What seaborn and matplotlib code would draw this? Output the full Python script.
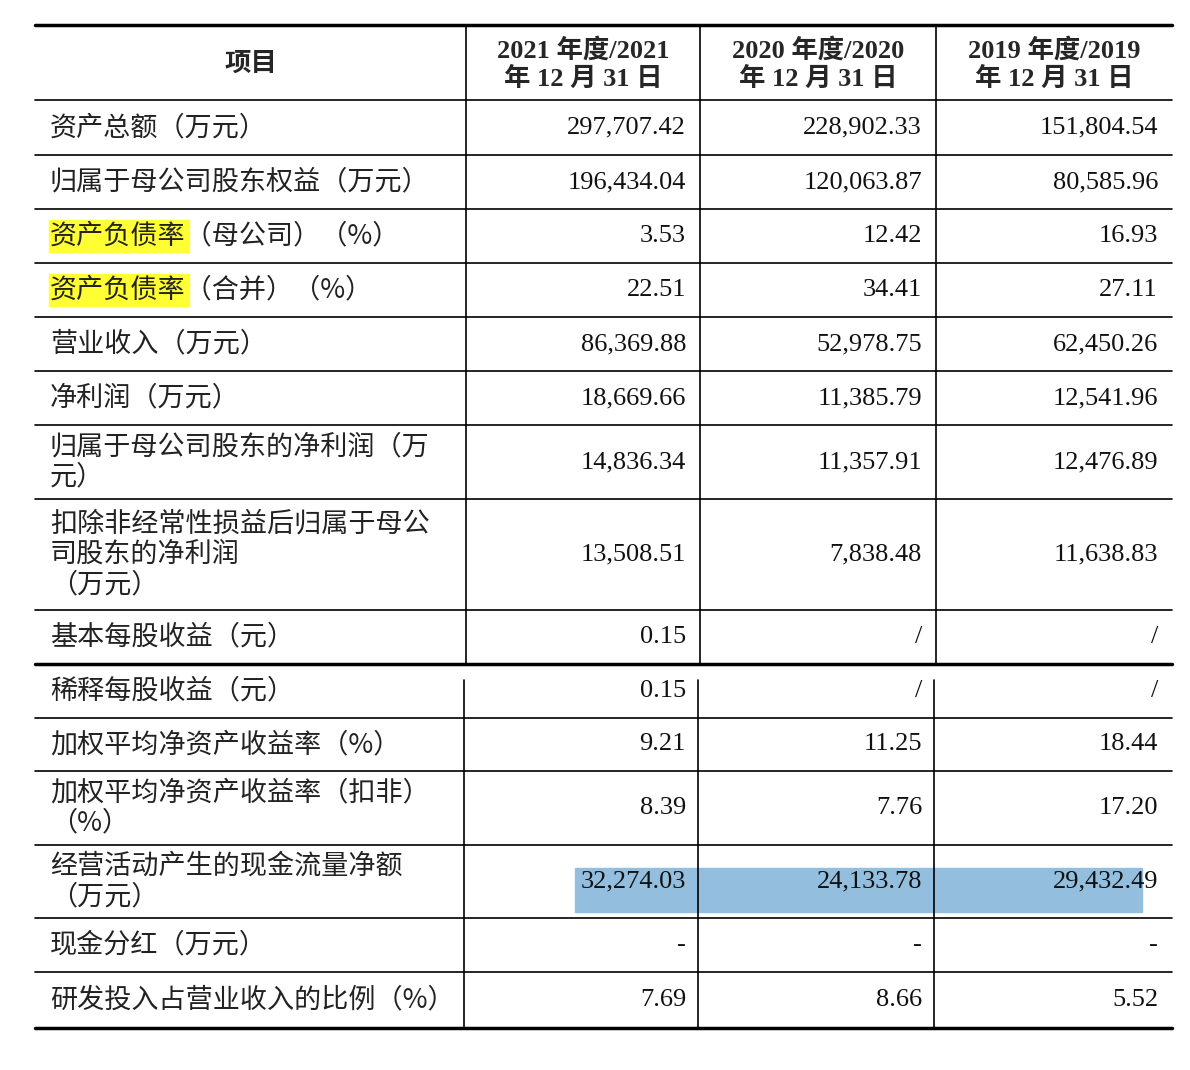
import matplotlib.pyplot as plt
import seaborn as sns
from matplotlib.patches import Rectangle

sns.set_style("white")
plt.rcParams['font.family'] = ['Noto Sans CJK SC', 'DejaVu Sans']

headers = ["项目", "2021 年度/2021\n年 12 月 31 日", "2020 年度/2020\n年 12 月 31 日", "2019 年度/2019\n年 12 月 31 日"]
items = [
    "资产总额（万元）",
    "归属于母公司股东权益（万元）",
    "资产负债率（母公司）（%）",
    "资产负债率（合并）（%）",
    "营业收入（万元）",
    "净利润（万元）",
    "归属于母公司股东的净利润（万\n元）",
    "扣除非经常性损益后归属于母公\n司股东的净利润\n（万元）",
    "基本每股收益（元）",
    "稀释每股收益（元）",
    "加权平均净资产收益率（%）",
    "加权平均净资产收益率（扣非）\n（%）",
    "经营活动产生的现金流量净额\n（万元）",
    "现金分红（万元）",
    "研发投入占营业收入的比例（%）",
]
v2021 = ["297,707.42", "196,434.04", "3.53", "22.51", "86,369.88", "18,669.66", "14,836.34",
         "13,508.51", "0.15", "0.15", "9.21", "8.39", "32,274.03", "-", "7.69"]
v2020 = ["228,902.33", "120,063.87", "12.42", "34.41", "52,978.75", "11,385.79", "11,357.91",
         "7,838.48", "/", "/", "11.25", "7.76", "24,133.78", "-", "8.66"]
v2019 = ["151,804.54", "80,585.96", "16.93", "27.11", "62,450.26", "12,541.96", "12,476.89",
         "11,638.83", "/", "/", "18.44", "17.20", "29,432.49", "-", "5.52"]

row_edges = [25, 100, 155, 209, 263, 317, 371, 425, 499, 610, 664, 718, 771, 845, 918, 972, 1028]
col_edges = [35, 466, 700, 936, 1172]

fig = plt.figure(figsize=(11.9, 10.7), dpi=100)
ax = fig.add_axes([0, 0, 1, 1])
ax.set_xlim(0, 1190)
ax.set_ylim(1070, 0)
ax.axis('off')

# highlights
for r in (3, 4):
    y0, y1 = row_edges[r], row_edges[r + 1]
    ax.add_patch(Rectangle((49, (y0 + y1) / 2 - 16), 140, 32, color='#ffff33', zorder=0))
ax.add_patch(Rectangle((575, 868), 567, 44, color='#93bedd', zorder=0))

# horizontal lines
for i, y in enumerate(row_edges):
    lw = 2.5 if i in (0, 10, 16) else 1.2
    ax.plot([col_edges[0], col_edges[-1]], [y, y], color='black', lw=lw)
# vertical lines
for x in col_edges[1:-1]:
    ax.plot([x, x], [row_edges[0], row_edges[10]], color='black', lw=1.2)
    ax.plot([x - 2, x - 2], [680, row_edges[-1]], color='black', lw=1.2)

# header
for j, h in enumerate(headers):
    cx = (col_edges[j] + col_edges[j + 1]) / 2
    ax.text(cx, (row_edges[0] + row_edges[1]) / 2 + 2, h, ha='center', va='center',
            fontsize=19, fontweight='bold', linespacing=1.25,
            family=['Liberation Serif', 'Noto Sans CJK SC'])

# body
for i in range(len(items)):
    cy = (row_edges[i + 1] + row_edges[i + 2]) / 2
    ax.text(50, cy, items[i], ha='left', va='center', fontsize=19.5, linespacing=1.15,
            family=['Noto Sans CJK SC'], color='#222222')
    for j, vals in enumerate((v2021, v2020, v2019)):
        ax.text(col_edges[j + 2] - 14, cy, vals[i], ha='right', va='center', fontsize=19,
                family=['Liberation Serif'], color='#111111')

fig.savefig('out.png', dpi=100)
